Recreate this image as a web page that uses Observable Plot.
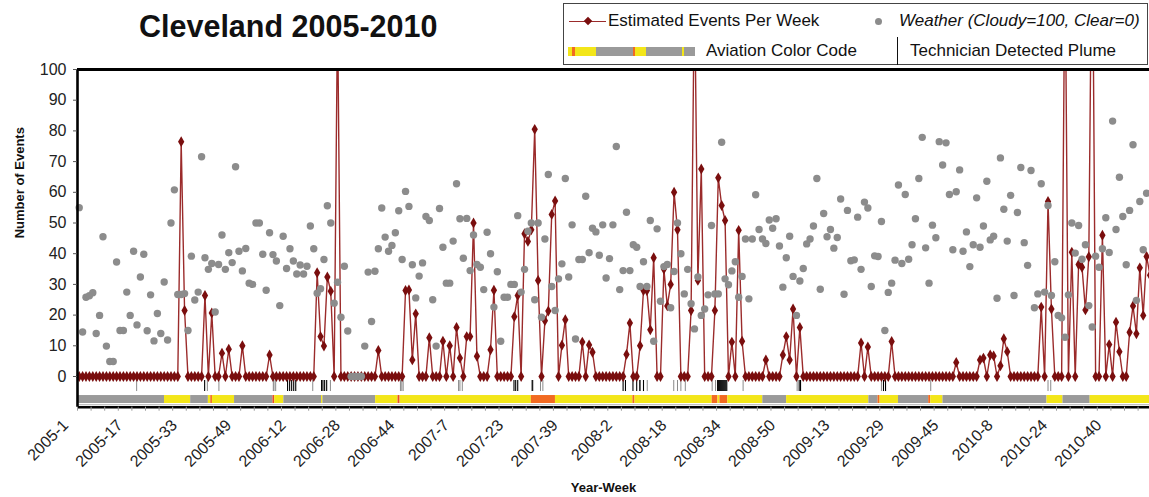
<!DOCTYPE html>
<html><head><meta charset="utf-8">
<script src="https://cdn.jsdelivr.net/npm/d3@7"></script>
<script src="https://cdn.jsdelivr.net/npm/@observablehq/plot@0.6"></script>
<style>
html,body{margin:0;padding:0;background:#fff;overflow:hidden}
body{width:1149px;height:497px;font-family:"Liberation Sans",Arial,sans-serif;color:#111}
#header{position:relative;z-index:2;height:50px;width:1149px}
#title{position:absolute;left:139px;top:8px;font-size:30.5px;font-weight:bold;line-height:36px;white-space:nowrap}
#legend{position:absolute;left:563px;top:3px;width:585px;height:62px;border:1.5px solid #444;box-sizing:border-box}
.lt{position:absolute;font-size:17px;line-height:20px;white-space:nowrap}
#chart svg{display:block;overflow:hidden}
</style></head><body>
<div id="header">
  <div id="title"></div>
  <div id="legend"></div>
</div>
<div id="chart"></div>
<script>
// ---------------- data ----------------
const title = "Cleveland 2005-2010";
const years = [2005, 2006, 2007, 2008, 2009, 2010];
const weeksPerYear = 53;
const tickLabels = ["2005-1","2005-17","2005-33","2005-49","2006-12","2006-28","2006-44","2007-7","2007-23","2007-39","2008-2","2008-18","2008-34","2008-50","2009-13","2009-29","2009-45","2010-8","2010-24","2010-40"];

// Estimated events per week (index 0 = 2005-1)
const events = [
0,0,0,0,0,0,0,0,0,0, 0,0,0,0,0,0,0,0,0,0, 0,0,0,0,0,0,0,0,0,0,
76.5,21.5,0,0,0,0,0,26.4,0,20.7, 0,0,7.6,0,8.9,0,0,0,10,0, 0,0,0,0,0,0,7,0,0,0,
0,0,0,0,0,0,0,0,0,0, 33.8,13,9.9,32.4,27.8,0,120,0,0,0, 0,0,0,0,0,0,0,0,8.5,0,
0,0,0,0,0,0,28,28.2,5.4,20.4, 0,0,0,12.6,0,0,0,11.5,0,10, 0,16,6,0,13,13,50,6.6,0,0,
0,8.7,28.1,0,0,0,0,0,19.5,26.4, 0,46.5,44,47.8,80.5,31.3,0,18.2,21.3,52.8, 57.2,0,10.2,18.5,0,0,0,0,11.2,0,
10.3,7.9,0,0,0,0,0,0,0,0, 0,7.2,17.4,0,0,10,28,28,15.2,38.7, 0,0,35,23,30,60,47.8,0,0,0,
21.5,130,31.3,67.6,0,0,0,21.5,64.7,55.7, 50.8,0,11.2,0,47.6,11.5,0,0,0,0, 0,0,5.4,0,0,0,0,7,13,5.4,
22,0,16,0,0,0,0,0,0,0, 0,0,0,0,0,0,0,0,0,0, 10.9,0,9.6,0,0,0,0,0,0,11.4,
0,0,0,0,0,0,0,0,0,0, 0,0,0,0,0,0,0,0,4.6,0, 0,0,0,0,0,5.4,6,0,7,6.7,
0,3.5,12.3,8.1,0,0,0,0,0,0, 0,0,0,22.6,0,57,22,0,0,0, 140,0,40.5,0,36.5,35.6,21.7,39,160,0,
0,46,0,10.4,0,17.7,8.1,0,0,14.4, 23,13.9,35.4,19.9,39.1,33
];

// Weather (Cloudy=100, Clear=0), one value per week
const weather = [
55,14.5,25.8,26.3,27.3,14,19.9,45.5,9.9,4.9, 4.9,37.3,15,15,27.5,19.9,40.8,16.8,32.4,39.8,
14.9,26.6,11.6,20.5,14,30.8,11.9,50,60.8,26.7, 26.7,27,15,39.2,24.9,27.5,71.6,38.7,34.9,36.8,
21,36.5,46.1,34.9,40.3,37.1,68.3,40.8,34.4,41.7, 30.4,30,50,50,39.8,28.1,46.8,39.7,37.6,23.1,
45.7,35.2,41.6,37.6,33.4,36.3,33.4,35.9,49,41.6, 27.1,28.6,38.1,55.6,50,23.9,30.7,19.3,35.9,14.8,
0,0,0,0,9.9,34,17.9,34.3,41.6,54.9, 45.4,40.8,42.7,46.8,54,38.1,60.3,55.4,36.4,25.6,
32.7,37,52.1,50.8,25,9.9,54.7,42.1,30.4,30.4, 44.1,62.8,51.4,38.5,51.5,34.5,46.1,36.5,35.6,28.3,
47,40,22.6,34.1,11.5,25.8,25.8,30,30,52.4, 27.5,34.9,47.3,50,25,50,19.3,44.8,65.8,29.3,
21.5,31.8,36.7,64.5,32.4,49.4,12.2,38.1,38.1,58.7, 40.3,48.3,47.1,39.5,49.4,32.1,38.4,49.4,74.9,28.3,
34.5,53.5,34.5,42.9,42.1,29.3,37.4,29.3,50.8,11.5, 48.1,24.5,35.8,36.5,22.4,34.2,50,40,26.9,34.9,
23.7,15.5,32.4,19.9,22,26.6,49.2,26.9,26.9,76.3, 31.8,29.9,34.4,37.4,25.8,32.6,44.8,25.3,44.8,59.2,
47.9,44.8,43.3,51,48.3,51.4,42.5,29.1,38.7,45.7, 32.6,19.9,31.1,35.2,43.2,44.8,49,64.5,28.4,53.1,
45.5,47.9,41.8,45.3,57.8,26.8,54.1,37.7,38,51.9, 34.9,56.8,54.9,29.3,39.3,39.1,50.5,15,27.4,30.4,
37.9,62.4,36.8,59.3,38.2,42.9,51.4,64.5,77.9,41.9, 30.4,49.3,45.2,76.5,68.9,76.1,59.3,41.3,60.2,67.3,
40.8,47.1,35.8,42.9,58.2,42.1,49,63.6,44.5,45.7, 25.5,71.2,54.5,44.1,59,26.4,53.4,68.1,43.6,36.2,
67.1,22.4,26.9,62.8,27.5,55.7,26.4,37.4,19.9,19.1, 12.8,26.6,50,40.2,49.2,38.2,42.9,23.1,16.1,39.2,
35.6,41.6,51.7,40.4,83.2,47.9,64.9,52.1,36.4,54.1, 75.5,24.8,57,41.3,59.7
];

// Technician detected plume (time in weeks from 2005-1)
const plumeBlack = [36.9, 61.3,61.9,62.5,63.1,63.7, 71.3,71.7,72.2,72.8, 127.9,128.4,129, 133.4, 160,160.7, 162.9,164,164.9,166,
  187.8,188.1,188.4,188.7,189,189.3,189.6,189.9,190.2,190.5, 211.8,212.2, 236.6,237.2];
const plumeGray = [16.9, 37.7, 41.1, 57.1,57.3,57.8, 68.7, 73.9, 94.5,94.9,95.3, 111.6,112,112.7, 133.1, 135.7,136.4,
  165.1,167.1, 174.9,176,177,178.3, 186.2,187.2, 195.3, 211.2, 236, 250.5, 285,285.8];

// Aviation color code periods (weeks from 2005-1)
const avStart = [-0.5,25.1,32.8,38.0,38.7,39.2,45.7,57.0,57.5,60.2,71.3,71.7,87.2,93.8,94.4,133.0,140.1,162.9,163.5,186.2,187.9,188.5,190.8,201.1,208.1,232.3,235.0,235.6,241.0,249.9,250.5,254.1,284.7,289.4,297.4];
const avEnd   = [25.1,32.8,38.0,38.7,39.2,45.7,57.0,57.5,60.2,71.3,71.7,87.2,93.8,94.4,133.0,140.1,162.9,163.5,186.2,187.9,188.5,190.8,201.1,208.1,232.3,235.0,235.6,241.0,249.9,250.5,254.1,284.7,289.4,297.4,317.5];
const avCode  = ["G","Y","G","Y","O","Y","G","R","Y","G","Y","G","Y","R","Y","O","Y","O","Y","O","Y","O","Y","G","Y","G","O","Y","G","O","Y","G","Y","G","Y"];
const avColors = {G: "#9a9a9a", Y: "#f3e619", O: "#f26a21", R: "#ea4a2a"};

// ---------------- build ----------------
const idxOf = s => { const [y, w] = s.split("-").map(Number); return years.indexOf(y) * weeksPerYear + (w - 1); };
const evData = events.map((v, i) => ({i, v}));
const wData = weather.map((v, i) => ({i, v}));
const avData = avStart.map((s, k) => ({s, e: avEnd[k], c: avCode[k]}));

document.getElementById("title").textContent = title;

// legend
const lg = document.getElementById("legend");
const L = 563, T = 3;
function abs(el, x, y) { el.style.position = "absolute"; el.style.left = (x - L) + "px"; el.style.top = (y - T) + "px"; return el; }
function div(css) { const d = document.createElement("div"); d.style.cssText = css; lg.appendChild(d); return d; }
abs(div("width:37px;height:1.6px;background:#9b2b2b"), 568, 19.5);
abs(div("width:6px;height:6px;background:#7a0e0e;transform:rotate(45deg)"), 583.5, 17.3);
const t1 = abs(div(""), 607, 10); t1.className = "lt"; t1.textContent = "Estimated Events Per Week";
abs(div("width:7px;height:7px;border-radius:50%;background:#8c8c8c"), 873.5, 16.5);
const t2 = abs(div(""), 898, 10); t2.className = "lt"; t2.style.fontStyle = "italic"; t2.textContent = "Weather (Cloudy=100, Clear=0)";
// aviation sample bar
const sample = [["Y",567,571],["O",571,573.5],["Y",573.5,594.6],["G",594.6,632],["O",632,634],["Y",634,644.6],["G",644.6,681],["Y",681,683],["G",683,694]];
sample.forEach(([c, a, b]) => abs(div(`width:${b - a}px;height:9px;background:${avColors[c]}`), a, 46));
const t3 = abs(div(""), 705, 40); t3.className = "lt"; t3.textContent = "Aviation Color Code";
abs(div("width:1.2px;height:28px;background:#111"), 896, 36);
const t4 = abs(div(""), 909, 40); t4.className = "lt"; t4.textContent = "Technician Detected Plume";

const chart = Plot.plot({
  width: 1149, height: 447,
  marginTop: 19, marginBottom: 90.3, marginLeft: 77, marginRight: -9,
  style: {fontFamily: "Liberation Sans, Arial, sans-serif", color: "#222", background: "white"},
  x: {type: "linear", domain: [-0.5, 317.5], axis: null},
  y: {domain: [-10, 100], axis: null},
  marks: [
    // aviation colour code bar
    Plot.rect(avData, {x1: "s", x2: "e", y1: -6.2, y2: -8.8, fill: d => avColors[d.c]}),
    // plume ticks
    Plot.ruleX(plumeGray, {y1: -1.3, y2: -4.9, stroke: "#8a8a8a", strokeWidth: 1}),
    Plot.ruleX(plumeBlack, {y1: -1.3, y2: -4.9, stroke: "#000", strokeWidth: 1.1}),
    // events
    Plot.line(evData, {x: "i", y: "v", stroke: "#9b2b2b", strokeWidth: 1.4, clip: true}),
    Plot.dot(evData.filter(d => d.v <= 100), {x: "i", y: "v", symbol: "diamond", r: 3.3, fill: "#7a0e0e", stroke: "none"}),
    // weather
    Plot.dot(wData, {x: "i", y: "v", r: 3.7, fill: "#8c8c8c", stroke: "none"}),
    // frame
    Plot.ruleY([-9.2], {stroke: "#b0b0b0", strokeWidth: 1}),
    Plot.ruleY([-10], {stroke: "#000", strokeWidth: 2.6}),
    Plot.ruleY([100], {stroke: "#000", strokeWidth: 3}),
    Plot.ruleX([-0.5], {y1: -10, y2: 100, stroke: "#000", strokeWidth: 2.6}),
    // axes
    Plot.axisY({ticks: d3.range(0, 101, 10), tickSize: 4, tickPadding: 7, fontSize: 16, anchor: "left", stroke: "#555", label: null}),
    Plot.axisX({ticks: d3.range(-0.5, 318, 4), tickFormat: () => "", tickSize: 4, stroke: "#999", anchor: "bottom", label: null}),
    Plot.text(tickLabels, {x: idxOf, frameAnchor: "bottom", dy: 19, dx: -10, rotate: -45, textAnchor: "end", fontSize: 16, fill: "#222"}),
    Plot.text(["Number of Events"], {frameAnchor: "left", dx: -58, rotate: -90, fontSize: 13, fontWeight: "bold", fill: "#111"}),
    Plot.text(["Year-Week"], {frameAnchor: "bottom", dx: -14.5, dy: 85, fontSize: 13, fontWeight: "bold", fill: "#111"})
  ]
});
document.getElementById("chart").appendChild(chart);
</script>
</body></html>
